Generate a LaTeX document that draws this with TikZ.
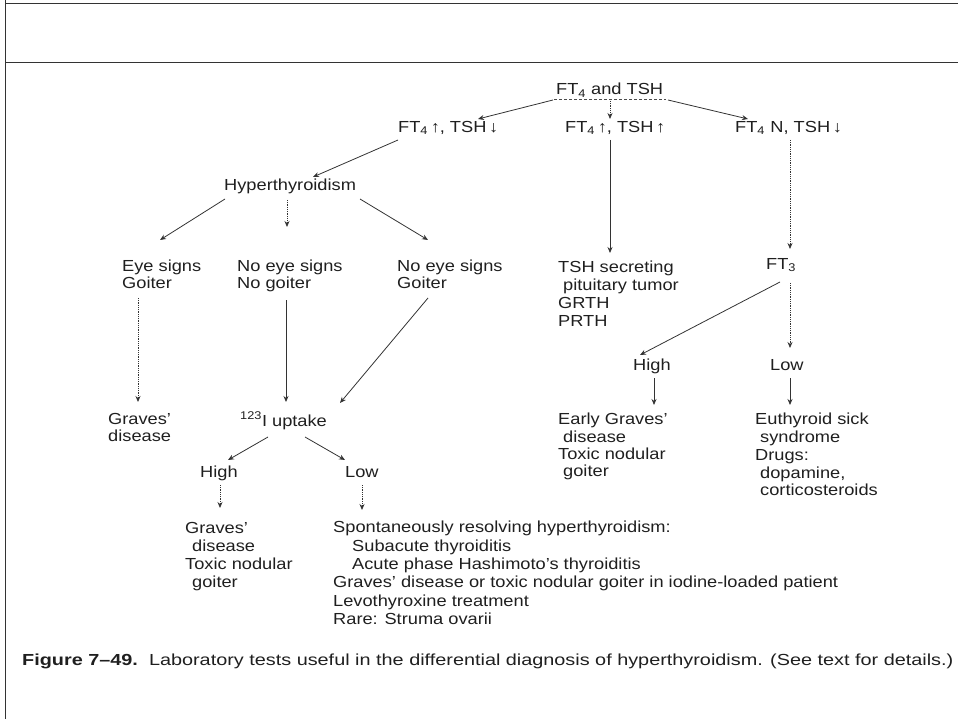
\documentclass[tikz,border=0pt]{standalone}
\usepackage{fontspec}
\setmainfont{Liberation Sans}[FakeStretch=1.14]
\newfontfamily\capfont{Liberation Sans}[FakeStretch=1.24]
\usetikzlibrary{arrows.meta}
\begin{document}
\begin{tikzpicture}[x=1pt,y=-1pt,
  txt/.style={inner sep=0pt,anchor=north west,align=left,text=black!88,
    font=\fontsize{16}{17.5}\selectfont},
  arr/.style={draw=black!80,line width=0.8pt,-{Stealth[length=6pt,width=5pt]}},
  faint/.style={arr,densely dotted},
  rule/.style={draw=black!80,line width=1pt}]
\useasboundingbox (0,0) rectangle (958,719);
% frame
\draw[rule] (5,0) -- (5,719);
\draw[rule] (5,4) -- (958,4);
\draw[rule,line width=0.8pt] (5,62) -- (958,62);

% first test and its three outcomes
\node[txt] (top) at (556,83) {FT\textsubscript{4} and TSH};
\draw[black!70,densely dashed,line width=0.7pt]
  ([shift={(-2,16)}]top.north west) -- ([shift={(110,16)}]top.north west);
\node[txt] (hi) at (398,121) {FT\textsubscript{4}\,↑, TSH\,↓};
\node[txt] (hh) at (565,121) {FT\textsubscript{4}\,↑, TSH\,↑};
\node[txt] (nl) at (735,121) {FT\textsubscript{4}\,\,N, TSH\,↓};
\draw[arr] ([shift={(-3,17)}]top.north west) -- ([shift={(80,-2)}]hi.north west);
\draw[faint] ([shift={(54,18)}]top.north west) -- ([shift={(45,-2)}]hh.north west);
\draw[arr] ([shift={(112,17)}]top.north west) -- ([shift={(13,-2)}]nl.north west);

% hyperthyroidism branch
\node[txt] (hyp) at (224,179) {Hyperthyroidism};
\draw[arr] ([shift={(0,19)}]hi.north west) -- ([shift={(89,-2)}]hyp.north west);
\node[txt,font=\fontsize{16}{17}\selectfont] (eye) at (122,260) {Eye signs\\Goiter};
\node[txt,font=\fontsize{16}{17}\selectfont] (nn) at (237,260) {No eye signs\\No goiter};
\node[txt,font=\fontsize{16}{17}\selectfont] (ng) at (397,260) {No eye signs\\Goiter};
\draw[arr] ([shift={(1,20)}]hyp.north west) -- ([shift={(38,-20)}]eye.north west);
\draw[faint] ([shift={(63,21)}]hyp.north west) -- ([shift={(50,-33)}]nn.north west);
\draw[arr] ([shift={(136,20)}]hyp.north west) -- ([shift={(31,-20)}]ng.north west);

\node[txt,font=\fontsize{16}{17}\selectfont] (gd) at (108,413) {Graves'\\disease};
\node[txt,anchor=base west] (up) at (240,426) {\textsuperscript{123}I uptake};
\draw[faint] ([shift={(16,38)}]eye.north west) -- ([shift={(30,-11)}]gd.north west);
\draw[arr] ([shift={(49,40)}]nn.north west) -- ([shift={(46,-24)}]up.base west);
\draw[arr] ([shift={(31,38)}]ng.north west) -- ([shift={(100,-23)}]up.base west);

\node[txt] (uh) at (200,466) {High};
\node[txt] (ul) at (345,466) {Low};
\draw[arr] ([shift={(28,11)}]up.base west) -- ([shift={(28,-6)}]uh.north west);
\draw[arr] ([shift={(65,11)}]up.base west) -- ([shift={(0,-6)}]ul.north west);

\node[txt,font=\fontsize{16}{18}\selectfont] (gt) at (185,522)
  {Graves'\\\hspace*{7pt}disease\\Toxic nodular\\\hspace*{7pt}goiter};
\node[txt,font=\fontsize{16}{18.4}\selectfont] (sp) at (333,521)
  {Spontaneously resolving hyperthyroidism:\\
  \hspace*{19pt}Subacute thyroiditis\\
  \hspace*{19pt}Acute phase Hashimoto's thyroiditis\\
  Graves' disease or toxic nodular goiter in iodine-loaded patient\\
  Levothyroxine treatment\\
  Rare: Struma ovarii};
\draw[faint] ([shift={(20,19)}]uh.north west) -- ([shift={(35,-14)}]gt.north west);
\draw[faint] ([shift={(17,19)}]ul.north west) -- ([shift={(29,-11)}]sp.north west);

% pituitary branch
\node[txt,font=\fontsize{16}{18}\selectfont] (ts) at (558,261)
  {TSH secreting\\\hspace*{5pt}pituitary tumor\\GRTH\\PRTH};
\draw[arr] ([shift={(45,19)}]hh.north west) -- ([shift={(52,-8)}]ts.north west);

% FT3 branch
\node[txt] (f3) at (766,258) {FT\textsubscript{3}};
\draw[faint] ([shift={(55,19)}]nl.north west) -- ([shift={(24,-9)}]f3.north west);
\node[txt] (fh) at (633,359) {High};
\node[txt] (fl) at (770,359) {Low};
\draw[arr] ([shift={(14,24)}]f3.north west) -- ([shift={(7,-4)}]fh.north west);
\draw[faint] ([shift={(24,25)}]f3.north west) -- ([shift={(20,-11)}]fl.north west);

\node[txt,font=\fontsize{16}{17.4}\selectfont] (eg) at (558,413)
  {Early Graves'\\\hspace*{5pt}disease\\Toxic nodular\\\hspace*{5pt}goiter};
\node[txt,font=\fontsize{16}{17.8}\selectfont] (es) at (755,413)
  {Euthyroid sick\\\hspace*{5pt}syndrome\\Drugs:\\\hspace*{5pt}dopamine,\\\hspace*{5pt}corticosteroids};
\draw[arr] ([shift={(21,19)}]fh.north west) -- ([shift={(96,-8)}]eg.north west);
\draw[arr] ([shift={(20,19)}]fl.north west) -- ([shift={(35,-8)}]es.north west);

% caption
\node[txt,font=\capfont\fontsize{16}{18}\selectfont] (cap) at (22,654)
  {\textbf{Figure 7–49.}\ \ Laboratory tests useful in the differential diagnosis of hyperthyroidism. (See text for details.)};
\end{tikzpicture}
\end{document}
